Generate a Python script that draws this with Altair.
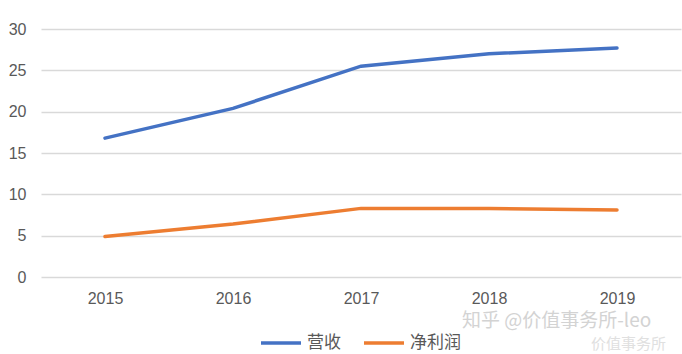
import altair as alt
import pandas as pd

years = ["2015", "2016", "2017", "2018", "2019"]
revenue = [16.8, 20.4, 25.5, 27.0, 27.7]
net_profit = [4.9, 6.4, 8.3, 8.3, 8.1]
series_names = ["营收", "净利润"]
colors = ["#4472C4", "#ED7D31"]
watermarks = ["知乎 @价值事务所-leo", "价值事务所"]

df = pd.DataFrame(
    [{"year": y, "value": v, "series": series_names[0]} for y, v in zip(years, revenue)]
    + [{"year": y, "value": v, "series": series_names[1]} for y, v in zip(years, net_profit)]
)

lines = alt.Chart(df).mark_line(strokeWidth=3.5, strokeCap="round").encode(
    x=alt.X("year:N", sort=years, title=None,
            scale=alt.Scale(padding=0.5),
            axis=alt.Axis(labelAngle=0, domain=False, ticks=False, grid=False,
                          labelFontSize=16, labelColor="#595959", labelPadding=13,
                          labelFont="Liberation Sans")),
    y=alt.Y("value:Q", title=None,
            scale=alt.Scale(domain=[0, 30]),
            axis=alt.Axis(values=[0, 5, 10, 15, 20, 25, 30], domain=False, ticks=False,
                          gridColor="#D9D9D9", gridWidth=1.5,
                          labelFontSize=16, labelColor="#595959", labelPadding=15,
                          labelFont="Liberation Sans")),
    color=alt.Color("series:N", sort=series_names,
                    scale=alt.Scale(domain=series_names, range=colors),
                    legend=alt.Legend(title=None, orient="none", direction="horizontal",
                                      legendX=218, legendY=292,
                                      symbolType="stroke", symbolSize=1600,
                                      symbolStrokeWidth=3.5,
                                      labelFontSize=17, labelColor="#595959",
                                      labelFont="Noto Sans CJK SC", columnPadding=16,
                                      labelOffset=4)),
)

wm1 = alt.Chart(pd.DataFrame({"t": [watermarks[0]]})).mark_text(
    font="Noto Sans CJK SC", fontSize=19, color="#D3D3D3", align="left", baseline="middle"
).encode(x=alt.value(421), y=alt.value(292), text="t:N")

wm2 = alt.Chart(pd.DataFrame({"t": [watermarks[1]]})).mark_text(
    font="Noto Sans CJK SC", fontSize=15, color="#E0E0E0", align="left", baseline="middle"
).encode(x=alt.value(550), y=alt.value(315), text="t:N")

chart = alt.layer(lines, wm1, wm2).properties(
    width=640, height=248,
    padding={"left": 41, "top": 29, "right": 1, "bottom": 77},
    autosize=alt.AutoSizeParams(type="none"),
).configure_view(stroke=None)

chart.save("out.html", embed_options={"renderer": "svg", "actions": False})
